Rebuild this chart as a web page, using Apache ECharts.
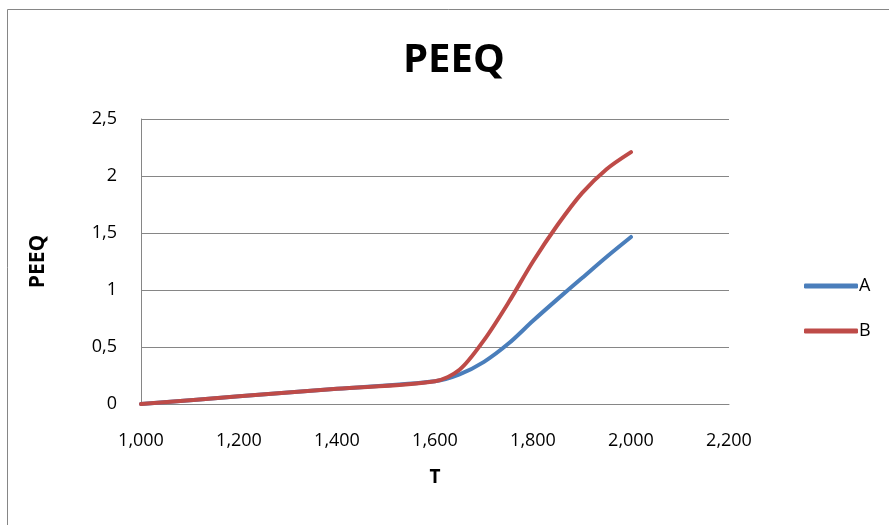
<!DOCTYPE html>
<html>
<head>
<meta charset="utf-8">
<script src="https://cdn.jsdelivr.net/npm/echarts@6/dist/echarts.min.js"></script>
<style>html,body{margin:0;padding:0;background:#fff;}#c{width:889px;height:525px;}</style>
</head>
<body>
<div id="c"></div>
<script>
var T = [1000, 1200, 1400, 1600, 1650, 1700, 1750, 1800, 1850, 1900, 1950, 2000];
var seriesA = [0, 0.067, 0.133, 0.2, 0.26, 0.37, 0.53, 0.73, 0.92, 1.105, 1.29, 1.465];
var seriesB = [0, 0.067, 0.133, 0.2, 0.30, 0.56, 0.89, 1.25, 1.57, 1.85, 2.06, 2.21];
var xTicks = [1000, 1200, 1400, 1600, 1800, 2000, 2200];
var yTicks = [0, 0.5, 1, 1.5, 2, 2.5];
var seriesNames = ['A', 'B'];

var font = '"Open Sans", "Liberation Sans", sans-serif';
function pairs(xs, ys) { return xs.map(function (x, i) { return [x, ys[i]]; }); }

var chart = echarts.init(document.getElementById('c'), null, { renderer: 'canvas' });
chart.setOption({
  animation: false,
  backgroundColor: '#fff',
  graphic: [{
    type: 'rect', left: 5, top: 7, z: -1,
    shape: { width: 1000, height: 1000 },
    style: { fill: 'none', stroke: '#868686', lineWidth: 1 }
  }],
  title: {
    text: 'PEEQ', left: 398, top: 36,
    textStyle: { fontFamily: font, fontSize: 40, fontWeight: 'bold', color: '#000' }
  },
  legend: {
    orient: 'vertical', left: 799, top: 272, itemGap: 27,
    itemWidth: 54, itemHeight: 5, icon: 'roundRect',
    data: seriesNames,
    textStyle: { fontFamily: font, fontSize: 18, color: '#000', padding: [0, 0, 0, -4] }
  },
  grid: { left: 141, top: 119, right: 160, bottom: 121, containLabel: false },
  xAxis: {
    type: 'value', min: xTicks[0], max: xTicks[xTicks.length - 1], interval: 200,
    name: 'T', nameLocation: 'middle', nameGap: 64,
    nameTextStyle: { fontFamily: font, fontSize: 19, fontWeight: 'bold', color: '#000' },
    axisLine: { show: true, lineStyle: { color: '#868686', width: 1 } },
    axisTick: { show: false },
    splitLine: { show: false },
    axisLabel: {
      margin: 28, fontFamily: font, fontSize: 18, color: '#000',
      formatter: function (v) { return v.toLocaleString('en-US'); }
    }
  },
  yAxis: {
    type: 'value', min: yTicks[0], max: yTicks[yTicks.length - 1], interval: 0.5,
    name: 'PEEQ', nameLocation: 'middle', nameGap: 92, nameRotate: 90,
    nameTextStyle: { fontFamily: font, fontSize: 21, fontWeight: 'bold', color: '#000' },
    axisLine: { show: true, lineStyle: { color: '#868686', width: 1 } },
    axisTick: { show: false },
    splitLine: { show: true, lineStyle: { color: '#868686', width: 1 } },
    axisLabel: {
      margin: 24, fontFamily: font, fontSize: 18, color: '#000',
      formatter: function (v) { return String(v).replace('.', ','); }
    }
  },
  series: [
    { name: seriesNames[0], type: 'line', data: pairs(T, seriesA), smooth: 0.3, symbol: 'none',
      lineStyle: { color: '#4A7EBB', width: 4, cap: 'round' }, itemStyle: { color: '#4A7EBB' } },
    { name: seriesNames[1], type: 'line', data: pairs(T, seriesB), smooth: 0.3, symbol: 'none',
      lineStyle: { color: '#BE4B48', width: 4, cap: 'round' }, itemStyle: { color: '#BE4B48' } }
  ]
});
</script>
</body>
</html>
